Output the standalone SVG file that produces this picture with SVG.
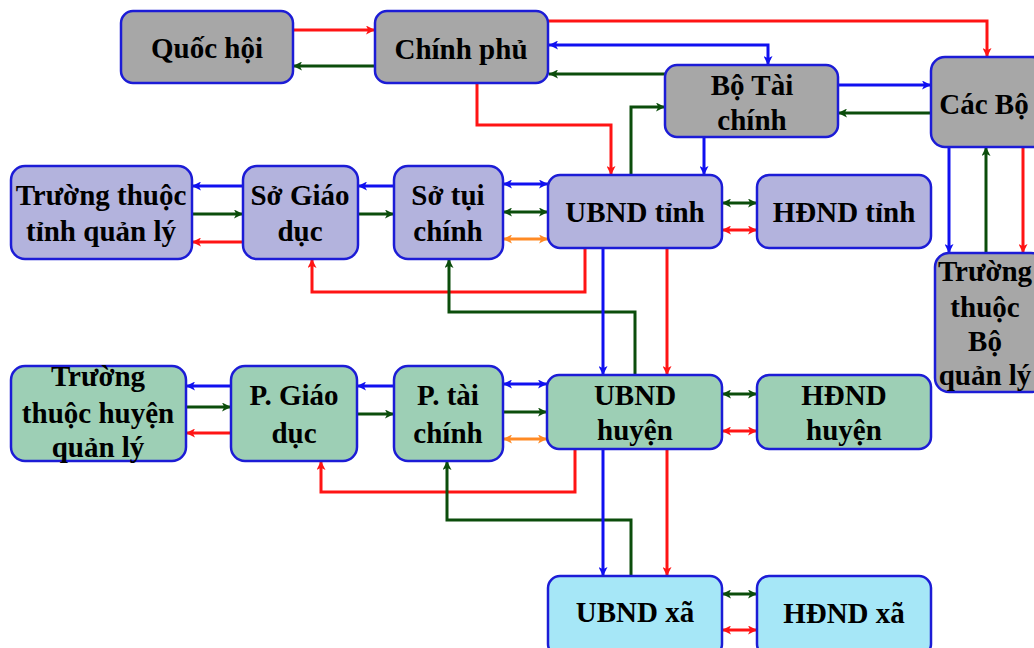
<svg xmlns="http://www.w3.org/2000/svg" width="1034" height="648" viewBox="0 0 1034 648">
<style>
.box{stroke:#1c1cd6;stroke-width:2.5}
.g{fill:#a7a7a7}.l{fill:#b3b3dd}.m{fill:#9dcfb5}.c{fill:#a6e7f7}
text{font-family:"Liberation Serif","Times New Roman",serif;font-weight:bold;font-size:29px;fill:#000;text-anchor:middle}
.k path{fill:none;stroke-width:3}
.r{stroke:#ff1414}.b{stroke:#1010f0}.n{stroke:#0b4d0b}.o{stroke:#ff8a24}
</style>
<defs>
<marker id="ar" viewBox="0 0 10 10" refX="10" refY="5" markerUnits="userSpaceOnUse" markerWidth="10" markerHeight="9" orient="auto-start-reverse"><path d="M0,0 L10,5 L0,10 L2.5,5 z" fill="#ff1414"/></marker>
<marker id="ab" viewBox="0 0 10 10" refX="10" refY="5" markerUnits="userSpaceOnUse" markerWidth="10" markerHeight="9" orient="auto-start-reverse"><path d="M0,0 L10,5 L0,10 L2.5,5 z" fill="#1010f0"/></marker>
<marker id="an" viewBox="0 0 10 10" refX="10" refY="5" markerUnits="userSpaceOnUse" markerWidth="10" markerHeight="9" orient="auto-start-reverse"><path d="M0,0 L10,5 L0,10 L2.5,5 z" fill="#0b4d0b"/></marker>
<marker id="ao" viewBox="0 0 10 10" refX="10" refY="5" markerUnits="userSpaceOnUse" markerWidth="10" markerHeight="9" orient="auto-start-reverse"><path d="M0,0 L10,5 L0,10 L2.5,5 z" fill="#ff8a24"/></marker>
</defs>
<rect width="1034" height="648" fill="#fff"/>

<g id="connectors" class="k">
<path class="r" d="M293,30 H375" marker-end="url(#ar)"/>
<path class="n" d="M375,66 H293" marker-end="url(#an)"/>
<path class="r" d="M548,21 H987 V57" marker-end="url(#ar)"/>
<path class="b" d="M549,45 H768 V65" marker-start="url(#ab)" marker-end="url(#ab)"/>
<path class="n" d="M665,74 H549" marker-end="url(#an)"/>
<path class="b" d="M838,85 H931" marker-end="url(#ab)"/>
<path class="n" d="M931,113 H838" marker-end="url(#an)"/>
<path class="r" d="M477,83 V125 H611 V175" marker-end="url(#ar)"/>
<path class="n" d="M631,175 V107 H665" marker-end="url(#an)"/>
<path class="b" d="M704,137 V175" marker-end="url(#ab)"/>
<path class="b" d="M949,147 V253" marker-end="url(#ab)"/>
<path class="n" d="M986,253 V147" marker-end="url(#an)"/>
<path class="r" d="M1023,147 V253" marker-end="url(#ar)"/>

<path class="b" d="M243,186 H192" marker-end="url(#ab)"/>
<path class="n" d="M192,214 H243" marker-end="url(#an)"/>
<path class="r" d="M243,242 H192" marker-end="url(#ar)"/>
<path class="b" d="M394,186 H358" marker-end="url(#ab)"/>
<path class="n" d="M358,214 H394" marker-end="url(#an)"/>
<path class="b" d="M503,184 H548" marker-start="url(#ab)" marker-end="url(#ab)"/>
<path class="n" d="M503,212 H548" marker-start="url(#an)" marker-end="url(#an)"/>
<path class="o" d="M503,239 H548" marker-start="url(#ao)" marker-end="url(#ao)"/>
<path class="n" d="M722,203 H757" marker-start="url(#an)" marker-end="url(#an)"/>
<path class="r" d="M722,230 H757" marker-start="url(#ar)" marker-end="url(#ar)"/>
<path class="r" d="M585,248 V292 H312 V259" marker-end="url(#ar)"/>
<path class="n" d="M635,375 V312 H449 V259" marker-end="url(#an)"/>
<path class="b" d="M603,248 V375" marker-end="url(#ab)"/>
<path class="r" d="M667,248 V375" marker-end="url(#ar)"/>

<path class="b" d="M231,386 H186" marker-end="url(#ab)"/>
<path class="n" d="M186,407 H231" marker-end="url(#an)"/>
<path class="r" d="M231,433 H186" marker-end="url(#ar)"/>
<path class="b" d="M394,386 H357" marker-end="url(#ab)"/>
<path class="n" d="M357,414 H394" marker-end="url(#an)"/>
<path class="b" d="M503,384 H547" marker-start="url(#ab)" marker-end="url(#ab)"/>
<path class="n" d="M503,412 H547" marker-end="url(#an)"/>
<path class="o" d="M503,439 H547" marker-start="url(#ao)" marker-end="url(#ao)"/>
<path class="n" d="M722,394 H757" marker-start="url(#an)" marker-end="url(#an)"/>
<path class="r" d="M722,431 H757" marker-start="url(#ar)" marker-end="url(#ar)"/>
<path class="r" d="M575,449 V492 H321 V461" marker-end="url(#ar)"/>
<path class="n" d="M631,576 V520 H447 V461" marker-end="url(#an)"/>
<path class="b" d="M603,449 V576" marker-end="url(#ab)"/>
<path class="r" d="M667,449 V576" marker-end="url(#ar)"/>
<path class="n" d="M722,594 H757" marker-start="url(#an)" marker-end="url(#an)"/>
<path class="r" d="M722,630 H757" marker-start="url(#ar)" marker-end="url(#ar)"/>
</g>

<g id="quoc-hoi"><rect class="box g" x="121" y="11" width="172" height="72" rx="12"/><text x="207" y="58">Quốc hội</text></g>
<g id="chinh-phu"><rect class="box g" x="375" y="11" width="173" height="72" rx="12"/><text x="461" y="59">Chính phủ</text></g>
<g id="bo-tai-chinh"><rect class="box g" x="665" y="65" width="173" height="72" rx="12"/><text x="752" y="95">Bộ Tài</text><text x="752" y="130">chính</text></g>
<g id="cac-bo"><rect class="box g" x="931" y="57" width="115" height="90" rx="14"/><text x="984" y="114">Các Bộ</text></g>
<g id="truong-bo"><rect class="box g" x="935" y="253" width="110" height="139" rx="14"/><text x="985" y="281">Trường</text><text x="985" y="317">thuộc</text><text x="985" y="351">Bộ</text><text x="985" y="385">quản lý</text></g>

<g id="truong-tinh"><rect class="box l" x="11" y="166" width="181" height="93" rx="14"/><text x="101" y="205">Trường thuộc</text><text x="101" y="241">tỉnh quản lý</text></g>
<g id="so-giao-duc"><rect class="box l" x="243" y="166" width="115" height="93" rx="14"/><text x="300" y="205">Sở Giáo</text><text x="300" y="241">dục</text></g>
<g id="so-tai-chinh"><rect class="box l" x="394" y="166" width="109" height="93" rx="14"/><text x="448" y="205">Sở tụi</text><text x="448" y="241">chính</text></g>
<g id="ubnd-tinh"><rect class="box l" x="548" y="175" width="174" height="73" rx="12"/><text x="635" y="222">UBND tỉnh</text></g>
<g id="hdnd-tinh"><rect class="box l" x="757" y="175" width="174" height="73" rx="12"/><text x="844" y="222">HĐND tỉnh</text></g>

<g id="truong-huyen"><rect class="box m" x="11" y="366" width="175" height="95" rx="14"/><text x="98" y="386">Trường</text><text x="98" y="423">thuộc huyện</text><text x="98" y="457">quản lý</text></g>
<g id="p-giao-duc"><rect class="box m" x="231" y="366" width="126" height="95" rx="14"/><text x="294" y="405">P. Giáo</text><text x="294" y="443">dục</text></g>
<g id="p-tai-chinh"><rect class="box m" x="394" y="366" width="109" height="95" rx="14"/><text x="448" y="405">P. tài</text><text x="448" y="443">chính</text></g>
<g id="ubnd-huyen"><rect class="box m" x="547" y="375" width="175" height="74" rx="12"/><text x="635" y="405">UBND</text><text x="635" y="440">huyện</text></g>
<g id="hdnd-huyen"><rect class="box m" x="757" y="375" width="174" height="74" rx="12"/><text x="844" y="405">HĐND</text><text x="844" y="440">huyện</text></g>

<g id="ubnd-xa"><rect class="box c" x="548" y="576" width="174" height="80" rx="12"/><text x="635" y="622">UBND xã</text></g>
<g id="hdnd-xa"><rect class="box c" x="757" y="576" width="174" height="80" rx="12"/><text x="844" y="623">HĐND xã</text></g>
</svg>
